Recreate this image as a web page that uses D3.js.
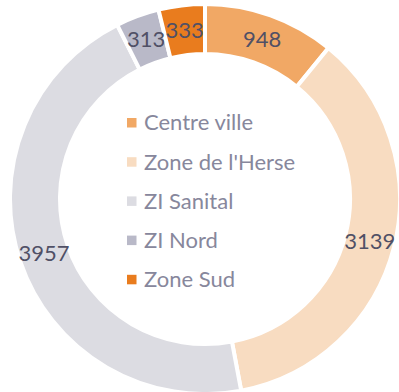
<!DOCTYPE html>
<html>
<head>
<meta charset="utf-8">
<script src="https://cdn.jsdelivr.net/npm/d3@7"></script>
<style>
  html, body { margin: 0; padding: 0; background: #fff; }
  svg { display: block; }
  text { font-family: Lato, "Open Sans", sans-serif; }
</style>
</head>
<body>
<svg id="chart" width="399" height="392"></svg>
<script>
// Zones and their counts
const zones = ["Centre ville", "Zone de l'Herse", "ZI Sanital", "ZI Nord", "Zone Sud"];
const counts = [948, 3139, 3957, 313, 333];
const colors = ["#F1A865", "#F8DCC1", "#DCDCE2", "#B9B9C8", "#E97C1E"];

const width = 399, height = 392;
const cx = 205, cy = 199;
const outerR = 195, innerR = 145;

const svg = d3.select("#chart");
const g = svg.append("g").attr("transform", `translate(${cx},${cy})`);

const pie = d3.pie().sort(null).value(d => d.value);
const data = zones.map((z, i) => ({ zone: z, value: counts[i], color: colors[i] }));
const arcs = pie(data);

const arc = d3.arc().innerRadius(innerR).outerRadius(outerR);
const labelArc = d3.arc().innerRadius(170).outerRadius(170);

g.selectAll("path.slice")
  .data(arcs)
  .join("path")
  .attr("class", "slice")
  .attr("d", arc)
  .attr("fill", d => d.data.color)
  .attr("stroke", "#fff")
  .attr("stroke-width", 4)
  .attr("stroke-linejoin", "miter");

// Value labels at the middle of each ring segment
g.selectAll("text.value")
  .data(arcs)
  .join("text")
  .attr("class", "value")
  .attr("transform", d => `translate(${labelArc.centroid(d)})`)
  .attr("text-anchor", "middle")
  .attr("dy", "0.35em")
  .attr("font-size", 22)
  .attr("fill", "#505066")
  .text(d => d.data.value);

// Legend in the hole of the donut
const legend = svg.append("g").attr("transform", "translate(127,122.5)");
const rowStep = 39.2;
const rows = legend.selectAll("g.row")
  .data(data)
  .join("g")
  .attr("class", "row")
  .attr("transform", (d, i) => `translate(0,${i * rowStep})`);

rows.append("rect")
  .attr("x", 0).attr("y", -4.5)
  .attr("width", 9.5).attr("height", 9.5)
  .attr("fill", d => d.color);

rows.append("text")
  .attr("x", 17)
  .attr("y", 0)
  .attr("dy", "0.36em")
  .attr("font-size", 22)
  .attr("fill", "#87879c")
  .text(d => d.zone);
</script>
</body>
</html>
